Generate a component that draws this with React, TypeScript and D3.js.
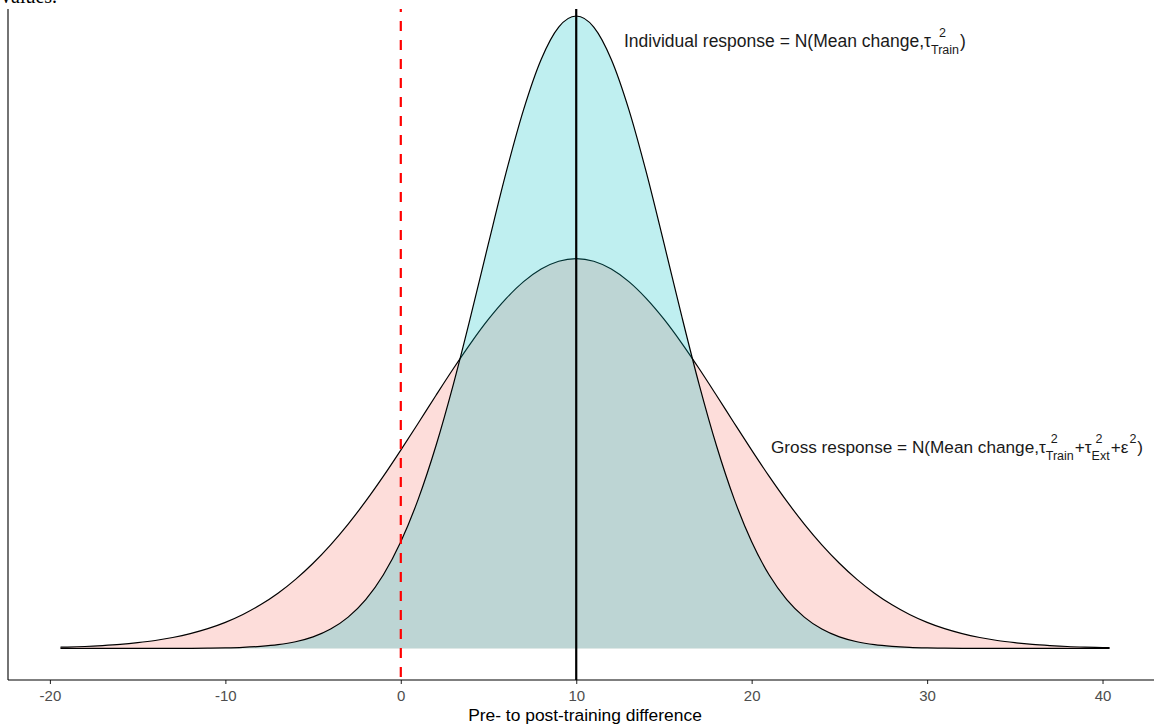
import * as d3 from "d3";
import { useEffect, useRef } from "react";

const width = 1154;
const height = 726;
const panel = { left: 8, right: 1162, top: 9, bottom: 680 };

// pre- to post-training difference (x)
const xValues = [
  -19.4, -19, -18, -17, -16, -15, -14, -13, -12, -11, -10, -9, -8, -7, -6, -5,
  -4, -3, -2, -1, 0, 1, 2, 3, 4, 5, 6, 7, 8, 9, 10, 11, 12, 13, 14, 15, 16, 17,
  18, 19, 20, 21, 22, 23, 24, 25, 26, 27, 28, 29, 30, 31, 32, 33, 34, 35, 36,
  37, 38, 39, 40, 40.4,
];

// individual response density
const individualDensity = [
  0, 0, 0, 0, 0, 0, 0, 0, 0.00001, 0.00003, 0.00006, 0.00012, 0.00024, 0.00044,
  0.00079, 0.00137, 0.0023, 0.00372, 0.0058, 0.00873, 0.01269, 0.0178, 0.02409,
  0.03146, 0.03966, 0.04823, 0.05662, 0.06413, 0.0701, 0.07395, 0.07527,
  0.07395, 0.0701, 0.06413, 0.05662, 0.04823, 0.03966, 0.03146, 0.02409, 0.0178,
  0.01269, 0.00873, 0.0058, 0.00372, 0.0023, 0.00137, 0.00079, 0.00044, 0.00024,
  0.00012, 0.00006, 0.00003, 0.00001, 0, 0, 0, 0, 0, 0, 0, 0, 0,
];

// gross response density
const grossDensity = [
  0.00014, 0.00016, 0.00023, 0.00034, 0.00048, 0.00068, 0.00094, 0.0013,
  0.00176, 0.00235, 0.0031, 0.00404, 0.00519, 0.00657, 0.00822, 0.01014,
  0.01233, 0.0148, 0.01752, 0.02047, 0.0236, 0.02683, 0.0301, 0.03331, 0.03637,
  0.03918, 0.04163, 0.04365, 0.04515, 0.04608, 0.04639, 0.04608, 0.04515,
  0.04365, 0.04163, 0.03918, 0.03637, 0.03331, 0.0301, 0.02683, 0.0236, 0.02047,
  0.01752, 0.0148, 0.01233, 0.01014, 0.00822, 0.00657, 0.00519, 0.00404, 0.0031,
  0.00235, 0.00176, 0.0013, 0.00094, 0.00068, 0.00048, 0.00034, 0.00023,
  0.00016, 0.00011, 0.00009,
];

const xTicks = [-20, -10, 0, 10, 20, 30, 40];
const meanChange = 10;
const noChange = 0;

const individualLabel = [
  "Individual response = N(Mean change,τ",
  { sup: "2", sub: "Train", off: 8 },
  ")",
];
const grossLabel = [
  "Gross response = N(Mean change,τ",
  { sup: "2", sub: "Train", off: 5 },
  "+τ",
  { sup: "2", sub: "Ext", off: 4 },
  "+ε",
  { sup: "2", sub: "", off: 1 },
  ")",
];

const font = "'Liberation Sans', Arial, sans-serif";

const App = () => {
  const svgRef = useRef(null);

  useEffect(() => {
    const svg = d3.select(svgRef.current);
    svg.selectAll("*").remove();

    const x = d3
      .scaleLinear()
      .domain([-22.39, 43.39])
      .range([panel.left, panel.right]);
    const y = d3
      .scaleLinear()
      .domain([-0.00376, 0.07903])
      .range([panel.bottom, -15.6]);

    svg
      .append("defs")
      .append("clipPath")
      .attr("id", "panel")
      .append("rect")
      .attr("x", panel.left)
      .attr("y", panel.top)
      .attr("width", panel.right - panel.left)
      .attr("height", panel.bottom - panel.top);

    const g = svg.append("g").attr("clip-path", "url(#panel)");

    const rows = (vals) => xValues.map((v, i) => [v, vals[i]]);
    const area = d3
      .area()
      .x((d) => x(d[0]))
      .y0(y(0))
      .y1((d) => y(d[1]))
      .curve(d3.curveMonotoneX);
    const line = d3
      .line()
      .x((d) => x(d[0]))
      .y((d) => y(d[1]))
      .curve(d3.curveMonotoneX);

    // respuesta bruta primero, individual encima
    [
      [grossDensity, "#F8766D"],
      [individualDensity, "#00BFC4"],
    ].forEach(([vals, color]) => {
      g.append("path")
        .attr("d", area(rows(vals)))
        .attr("fill", color)
        .attr("fill-opacity", 0.25);
      g.append("path")
        .attr("d", line(rows(vals)))
        .attr("fill", "none")
        .attr("stroke", "#000")
        .attr("stroke-width", 1.2);
    });

    g.append("line")
      .attr("x1", x(noChange))
      .attr("x2", x(noChange))
      .attr("y1", panel.top)
      .attr("y2", panel.bottom)
      .attr("stroke", "#FF0000")
      .attr("stroke-width", 2.2)
      .attr("stroke-dasharray", "10 9")
      .attr("stroke-dashoffset", 7);

    g.append("line")
      .attr("x1", x(meanChange))
      .attr("x2", x(meanChange))
      .attr("y1", panel.top)
      .attr("y2", panel.bottom)
      .attr("stroke", "#000")
      .attr("stroke-width", 2.2);

    // ejes
    const eje = svg
      .append("g")
      .attr("transform", `translate(0,${panel.bottom})`)
      .call(
        d3
          .axisBottom(x)
          .tickValues(xTicks)
          .tickFormat((d) => String(d))
          .tickSize(4)
          .tickPadding(6)
      );
    eje.select("path.domain").remove();
    eje.selectAll("line").attr("stroke", "#333333").attr("stroke-width", 1.1);
    eje
      .selectAll("text")
      .attr("fill", "#4D4D4D")
      .style("font-family", font)
      .style("font-size", "15px");

    svg
      .append("line")
      .attr("x1", panel.left)
      .attr("x2", width)
      .attr("y1", panel.bottom)
      .attr("y2", panel.bottom)
      .attr("stroke", "#000")
      .attr("stroke-width", 1.1);
    svg
      .append("line")
      .attr("x1", panel.left)
      .attr("x2", panel.left)
      .attr("y1", panel.top)
      .attr("y2", panel.bottom)
      .attr("stroke", "#000")
      .attr("stroke-width", 1.1);

    svg
      .append("text")
      .attr("x", (panel.left + panel.right) / 2)
      .attr("y", 721)
      .attr("text-anchor", "middle")
      .style("font-family", font)
      .style("font-size", "17.4px")
      .attr("fill", "#000")
      .text("Pre- to post-training difference");

    // texto con super/subindices
    const drawMath = (x0, y0, parts, fs, sfs) => {
      const lg = svg
        .append("g")
        .style("font-family", font)
        .attr("fill", "#1a1a1a");
      let cx = x0;
      parts.forEach((p) => {
        if (typeof p === "string") {
          const t = lg
            .append("text")
            .attr("x", cx)
            .attr("y", y0)
            .style("font-size", fs + "px")
            .style("white-space", "pre")
            .text(p);
          cx += t.node().getComputedTextLength();
        } else {
          let w1 = 0;
          if (p.sub) {
            const s = lg
              .append("text")
              .attr("x", cx)
              .attr("y", y0 + 7)
              .style("font-size", sfs + "px")
              .text(p.sub);
            w1 = s.node().getComputedTextLength();
          }
          const u = lg
            .append("text")
            .attr("x", cx + p.off)
            .attr("y", y0 - 10)
            .style("font-size", sfs + "px")
            .text(p.sup);
          const w2 = p.off + u.node().getComputedTextLength();
          cx += Math.max(w1, w2) + 1;
        }
      });
    };

    drawMath(624, 47, individualLabel, 17.5, 12.5);
    drawMath(771, 453, grossLabel, 17.2, 12.5);

    // resto del texto del documento, cortado arriba
    svg
      .append("text")
      .attr("x", 1)
      .attr("y", 3)
      .style("font-family", "'Liberation Serif', serif")
      .style("font-size", "20px")
      .attr("fill", "#000")
      .text("values.");
  }, []);

  return (
    <svg
      ref={svgRef}
      width={width}
      height={height}
      style={{ position: "absolute", left: 0, top: 0, background: "#fff" }}
    />
  );
};

export default App;
